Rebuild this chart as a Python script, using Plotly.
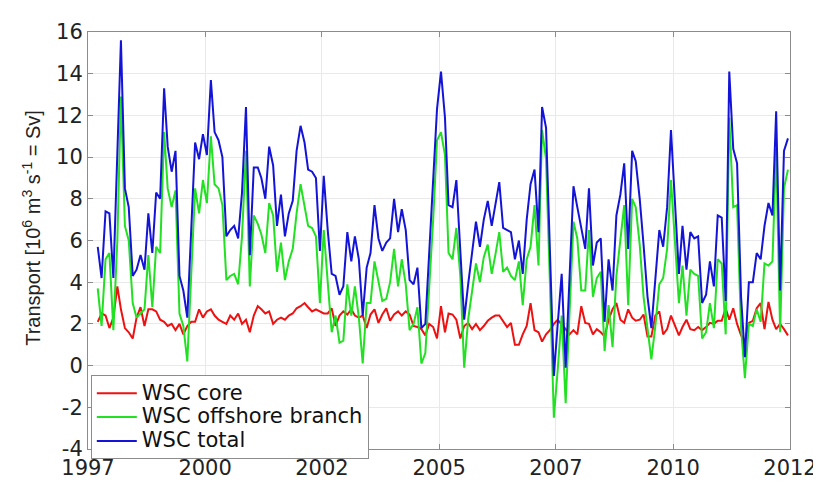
import plotly.graph_objects as go

# Monthly series, Sep 1997 .. Jun 2012 (178 months)
n_months = 178
months = [f"{1997 + (8 + k) // 12}-{(8 + k) % 12 + 1:02d}-15" for k in range(n_months)]

wsc_total = [
    5.7, 4.2, 7.4, 7.3, 4.2, 9.8, 15.6, 8.5, 7.6, 4.3,
    4.6, 5.3, 4.6, 7.3, 5.4, 8.3, 8.0, 13.3, 10.5, 9.3,
    10.3, 4.3, 3.6, 2.3, 6.5, 10.7, 9.9, 11.1, 10.1, 13.7,
    11.2, 10.8, 10.0, 6.2, 6.5, 6.7, 6.1, 8.3, 12.4, 5.3,
    9.5, 9.5, 9.0, 8.0, 10.5, 9.6, 6.7, 8.2, 6.2, 7.3,
    7.9, 10.3, 11.5, 10.7, 9.4, 9.3, 9.0, 5.5, 9.1, 6.5,
    4.4, 4.3, 3.4, 3.8, 6.4, 5.0, 6.2, 5.1, 2.4, 4.7,
    5.4, 7.7, 6.1, 5.5, 5.9, 6.1, 8.0, 6.4, 7.5, 6.5,
    4.1, 3.9, 4.7, 1.8, 2.0, 5.5, 8.8, 12.3, 14.1, 11.9,
    7.7, 7.6, 8.9, 5.7, 2.2, 3.9, 5.4, 6.9, 5.7, 7.0,
    7.9, 6.7, 7.7, 8.8, 6.6, 6.5, 6.4, 5.1, 6.0, 4.4,
    7.0, 8.7, 9.4, 6.4, 12.4, 11.4, 5.7, -0.5, 2.0, 4.4,
    -0.1, 4.0, 8.6, 7.6, 6.5, 5.6, 8.5, 4.8, 5.9, 6.1,
    2.1, 5.1, 3.6, 7.2, 8.2, 9.7, 5.6, 10.3, 9.8, 8.0,
    5.8, 3.3, 1.8, 4.3, 6.5, 5.7, 7.6, 11.3, 7.6, 4.4,
    6.7, 4.6, 6.4, 6.1, 6.2, 3.0, 3.4, 5.0, 3.8, 7.2,
    7.1, 3.1, 14.1, 10.4, 9.7, 3.3, 0.4, 4.0, 4.0, 5.4,
    5.1, 6.7, 7.8, 7.2, 12.2, 3.6, 10.3, 10.9,
]

wsc_core = [
    2.1, 2.5, 2.4, 1.8, 2.3, 3.8, 2.7, 1.8, 1.6, 1.3,
    2.3, 2.8, 1.9, 2.7, 2.7, 2.6, 2.2, 2.1, 1.9, 2.0,
    1.7, 2.0, 1.5, 1.9, 2.1, 2.1, 2.7, 2.3, 2.6, 2.7,
    2.4, 2.2, 2.1, 2.0, 2.4, 2.2, 2.5, 2.0, 2.2, 1.6,
    2.4, 2.85, 2.7, 2.5, 2.6, 2.0, 2.2, 2.3, 2.2, 2.4,
    2.5, 2.75, 2.85, 3.0, 2.8, 2.6, 2.7, 2.6, 2.5, 2.5,
    2.75, 1.9, 2.4, 2.6, 2.45, 2.7, 2.4, 2.3, 2.4, 1.8,
    2.45, 2.7, 2.05, 2.45, 2.75, 2.15, 2.45, 2.6, 2.4, 2.6,
    2.45, 1.9, 1.85, 1.75, 1.45, 2.0, 1.85, 1.3, 2.85, 1.6,
    2.5, 2.45, 2.2, 1.3, 1.9, 2.05, 1.75, 2.0, 1.7, 1.9,
    2.15, 2.3, 2.4, 2.4, 2.15, 1.85, 2.05, 1.0, 1.0, 1.5,
    1.9, 3.0, 1.7, 1.6, 1.15, 1.5, 1.7, 2.0, 2.2, 2.0,
    1.75, 1.5, 1.7, 1.5, 2.85, 2.05, 2.0, 1.5, 1.75, 1.6,
    1.4, 2.2, 2.7, 3.0, 2.2, 2.05, 2.7, 2.3, 2.15, 2.2,
    2.45, 1.4, 1.4, 2.4, 2.6, 1.5, 1.75, 2.4, 1.9, 1.45,
    1.85, 2.2, 1.75, 1.7, 1.85, 1.7, 1.85, 2.05, 2.0, 2.15,
    2.15, 2.75, 2.2, 2.75, 2.0, 1.45, 1.15, 2.05, 2.15, 2.75,
    3.0, 1.75, 3.05, 2.2, 1.75, 2.0, 1.75, 1.45,
]

wsc_offshore = [
    3.7, 1.9, 5.1, 5.4, 1.7, 6.0, 12.9, 6.7, 6.0, 3.0,
    2.3, 2.5, 2.7, 5.3, 2.8, 5.7, 5.4, 11.2, 8.5, 7.6,
    8.4, 2.5, 1.9, 0.2, 4.4, 8.5, 7.3, 8.9, 7.8, 11.0,
    8.7, 8.5, 7.7, 4.1, 4.3, 4.4, 3.9, 6.2, 10.3, 3.8,
    7.2, 6.8, 6.3, 5.4, 7.8, 7.2, 4.5, 5.9, 4.1, 5.0,
    5.6, 7.3, 8.7, 7.6, 6.7, 6.6, 6.2, 3.0, 6.5, 4.0,
    1.6, 2.4, 1.1, 1.2, 3.9, 2.4, 3.8, 2.3, 0.1, 3.0,
    3.0, 5.0, 4.0, 3.1, 3.2, 4.0, 5.6, 3.8, 5.1, 3.9,
    1.7, 2.0, 2.8, 0.1, 0.6, 3.5, 7.0, 10.8, 11.2, 10.1,
    5.4, 5.1, 6.6, 4.3, -0.1, 2.2, 3.7, 4.9, 4.0, 5.2,
    5.8, 4.4, 5.3, 6.4, 4.5, 4.7, 4.3, 4.1, 5.0, 2.9,
    5.1, 5.7, 7.7, 4.8, 11.3, 9.9, 4.0, -2.5, -0.2, 2.4,
    -1.8, 2.5, 6.9, 6.1, 3.6, 3.6, 6.5, 3.3, 4.2, 4.5,
    0.7, 2.9, 0.9, 4.3, 6.0, 7.7, 2.9, 8.0, 7.6, 5.8,
    3.3, 1.9, 0.3, 1.9, 3.9, 4.2, 5.6, 8.9, 5.7, 3.0,
    4.8, 2.4, 4.6, 4.4, 4.3, 1.3, 1.6, 3.0, 1.8, 5.1,
    4.9, 1.5, 11.9, 7.6, 7.7, 1.8, -0.6, 2.0, 1.9, 2.7,
    2.1, 4.9, 4.8, 5.0, 10.4, 1.6, 8.5, 9.4,
]

x_tick_dates = ["1997-07-01", "2000-01-01", "2002-07-01", "2005-01-01",
                "2007-07-01", "2010-01-01", "2012-07-01"]
x_tick_labels = ["1997", "2000", "2002", "2005", "2007", "2010", "2012"]
y_tick_values = [-4, -2, 0, 2, 4, 6, 8, 10, 12, 14, 16]
y_tick_labels = ["-4", "-2", "0", "2", "4", "6", "8", "10", "12", "14", "16"]

series_names = ["WSC core", "WSC offshore branch", "WSC total"]
series_colors = ["#ee1111", "#22e022", "#1414d8"]

fig = go.Figure()
for name, vals, col in zip(series_names, [wsc_core, wsc_offshore, wsc_total], series_colors):
    fig.add_trace(go.Scatter(
        x=months, y=vals, mode="lines",
        name=f"<span style='font-size:21px'>{name}</span>",
        line=dict(color=col, width=2)))

axis_col = "#8c8c8c"
tick_font = dict(family="DejaVu Sans", size=21, color="#222")
fig.update_layout(
    width=821, height=484,
    margin=dict(l=80, r=27, t=22, b=22),
    paper_bgcolor="white", plot_bgcolor="white",
    font=dict(family="DejaVu Sans", size=16, color="#222"),
    showlegend=True,
    legend=dict(x=0.004, y=-0.025, xanchor="left", yanchor="bottom",
                bgcolor="white", bordercolor="#8c8c8c", borderwidth=1,
                font=dict(family="DejaVu Sans", size=16, color="#111"),
                itemwidth=40, tracegroupgap=0),
    xaxis=dict(type="date", range=["1997-07-01", "2012-07-01"],
               tickmode="array", tickvals=x_tick_dates, ticktext=x_tick_labels,
               ticks="inside", ticklen=5, tickcolor=axis_col,
               showline=True, linecolor=axis_col, linewidth=1, mirror="ticks",
               showgrid=True, gridcolor="#e9e9e9", gridwidth=1, zeroline=False,
               tickfont=tick_font),
    yaxis=dict(range=[-4, 16], tickmode="array", tickvals=y_tick_values,
               ticktext=y_tick_labels,
               ticks="inside", ticklen=5, tickcolor=axis_col,
               showline=True, linecolor=axis_col, linewidth=1, mirror="ticks",
               showgrid=True, gridcolor="#e9e9e9", gridwidth=1, zeroline=False,
               tickfont=tick_font),
    annotations=[dict(
        text="Transport [10<sup>6</sup> m<sup>3</sup> s<sup>-1</sup> = Sv]",
        xref="paper", yref="paper", x=-0.08, y=0.53,
        xanchor="center", yanchor="middle", textangle=-90, showarrow=False,
        font=dict(family="Liberation Sans", size=20, color="#222"))],
)

fig.write_html("out.html")
